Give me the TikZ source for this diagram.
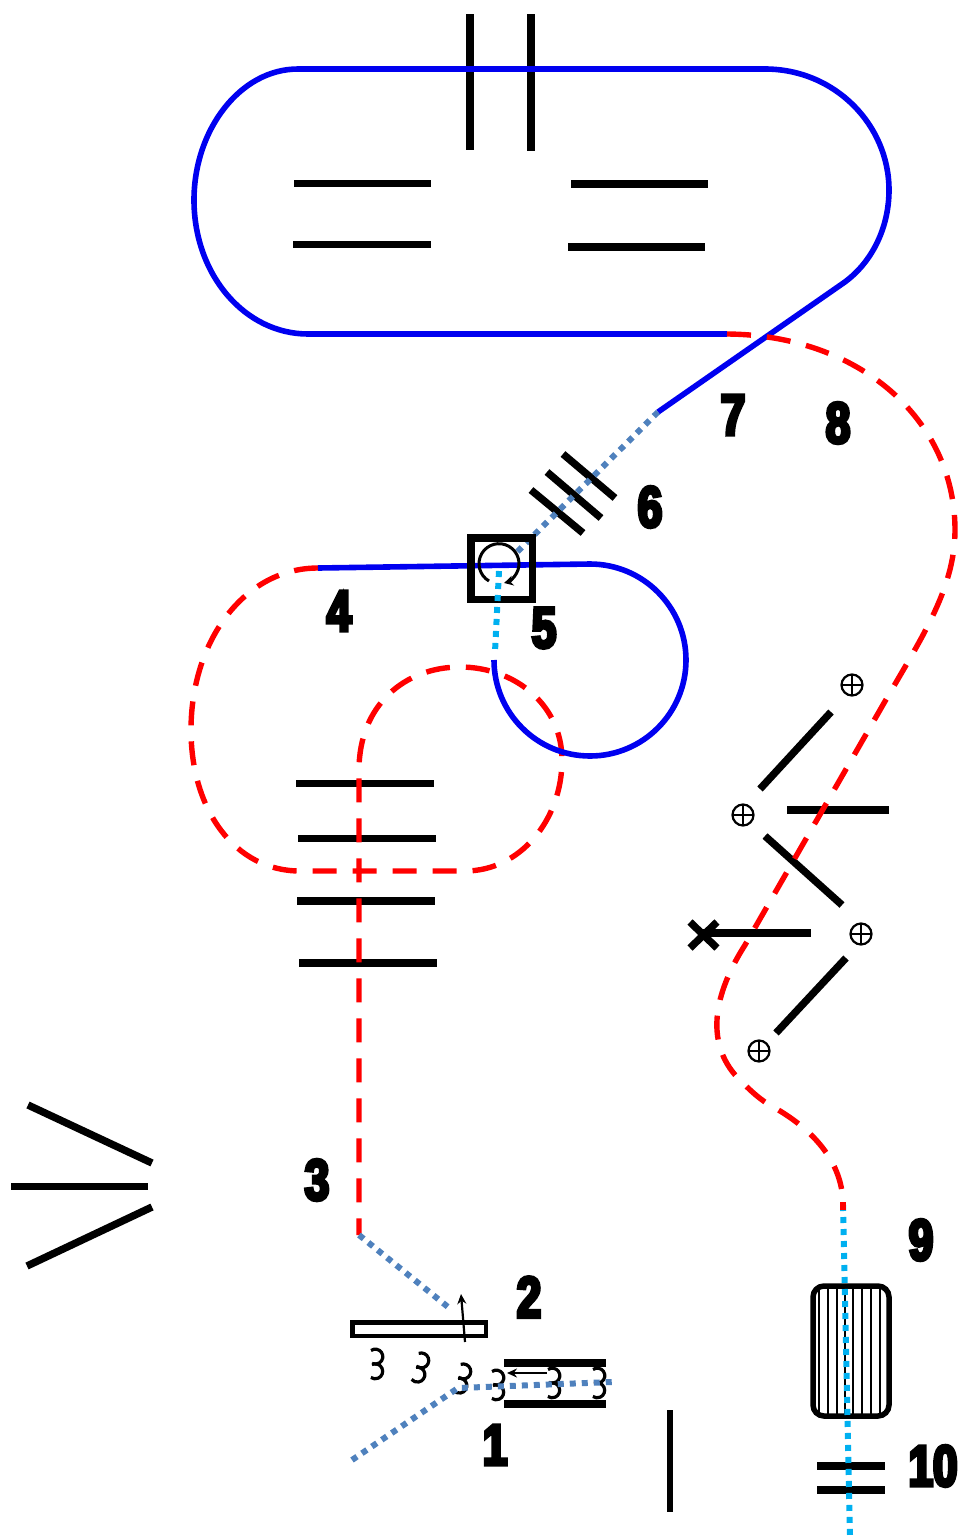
\documentclass[tikz,border=0pt]{standalone}
\usepackage{fontspec}
\usetikzlibrary{arrows.meta}
\newfontfamily\impfont[FakeBold=6,FakeStretch=0.76]{Liberation Sans Bold}
\definecolor{ringblue}{RGB}{0,0,240}
\definecolor{dotblue}{RGB}{79,129,189}
\definecolor{dotcyan}{RGB}{0,176,240}
\tikzset{
  ring/.style={draw=ringblue,line width=5.6pt},
  reddash/.style={draw=red,line width=5.4pt,dash pattern=on 24pt off 16pt},
  bluedots/.style={draw=dotblue,line width=6pt,dash pattern=on 6pt off 6pt},
  cyandots/.style={draw=dotcyan,line width=6pt,dash pattern=on 6pt off 6pt},
  bar/.style={draw=black,line width=7.4pt},
  thinarrow/.style={draw=black,line width=2.2pt,-{Stealth[length=10pt,width=9pt]}},
  num/.style={font=\impfont\fontsize{58}{58}\selectfont,text=black,inner sep=0pt},
  coil/.style={draw=black,line width=3.2pt},
  port/.style={draw=black,line width=2.2pt}
}
\newcommand{\coilmark}[3]{%
  \begin{scope}[shift={(#1,#2)},rotate=#3]
    \draw[coil] (-6,-13.5) arc[start angle=125,end angle=-115,radius=7.5pt];
    \draw[coil] (-5,0.5) arc[start angle=115,end angle=-125,radius=7.5pt];
  \end{scope}}
\newcommand{\portmark}[2]{%
  \draw[port] (#1,#2) circle (10.5pt);
  \draw[draw=black,line width=1.2pt] (#1-10.5,#2) -- (#1+10.5,#2) (#1,#2-10.5) -- (#1,#2+10.5);}
\begin{document}
\begin{tikzpicture}[x=1pt,y=-1pt]
\useasboundingbox (0,0) rectangle (959,1540);
% storage ring
\draw[bar] (470,14) -- (470,150);
\draw[bar] (531,14) -- (531,151);
\draw[ring] (658,412) -- (842,284) .. controls (870,265) and (889,230) .. (889,190)
  .. controls (889,125) and (835,69) .. (765,69) -- (298,69)
  .. controls (240,69) and (194,130) .. (194,200)
  .. controls (194,275) and (245,334) .. (308,334) -- (727,334);
\draw[bar] (294,183.5) -- (431,183.5);
\draw[bar] (293,244.5) -- (431,244.5);
\draw[bar] (571,184) -- (708,184);
\draw[bar] (568,247) -- (705,247);
% extraction
\draw[bar] (563,454) -- (615,498);
\draw[bar] (547,472) -- (601,518);
\draw[bar] (531,490) -- (583,533);
\draw[bluedots] (658,412) -- (516,553);
% second ring
\draw[bar] (296,783.5) -- (434,783.5);
\draw[bar] (298,838.5) -- (436,838.5);
\draw[bar] (297,901) -- (435,901);
\draw[bar] (299,963) -- (437,963);
\draw[reddash] (318,568) .. controls (245,568) and (191,640) .. (191,730)
  .. controls (191,810) and (235,871) .. (300,871) -- (465,871)
  .. controls (520,871) and (562,820) .. (562,760)
  .. controls (562,705) and (515,667) .. (460,667)
  .. controls (405,667) and (359,705) .. (359,770) -- (359,1235);
\draw[ring] (318,568) -- (590,564) arc[start angle=90,end angle=-180,radius=96pt];
\draw[draw=black,line width=7.5pt] (471,538) rectangle (532.5,599.5);
\draw[draw=black,line width=3pt,-{Stealth[length=9pt,width=10pt]}] (489,581) arc[start angle=240,end angle=-75,radius=20pt];
\draw[cyandots] (499,571) -- (495,652);
% dotted injection
\draw[bluedots] (359,1235) -- (448,1307);
% beamline right
\draw[bar] (760,789) -- (831,712);
\draw[bar] (765,836) -- (842,905);
\draw[bar] (787,810) -- (889,810);
\draw[bar] (776,1033) -- (846,958);
\draw[bar] (703,933) -- (811,933);
\draw[bar] (690,922) -- (717,948);
\draw[bar] (690,948) -- (717,922);
\portmark{852}{685}
\portmark{743}{815}
\portmark{861}{934}
\portmark{759}{1051}
\draw[reddash] (727,334) .. controls (860,335) and (955,420) .. (955,530)
  .. controls (955,590) and (920,640) .. (880,710) -- (745,945)
  .. controls (710,1000) and (705,1050) .. (745,1085)
  .. controls (755,1095) and (765,1103) .. (775,1108)
  .. controls (810,1128) and (843,1160) .. (843,1205);
% detector box
\draw[draw=black,line width=5.5pt,rounded corners=11pt] (813,1286) rectangle (889,1416);
\foreach \lx in {819,828,837,853,862,871,880}{
  \draw[draw=black,line width=1.6pt] (\lx,1288) -- (\lx,1414);
}
\draw[draw=black,line width=2.4pt] (845,1288) -- (845,1414);
\draw[bar] (817,1466) -- (885,1466);
\draw[bar] (817,1490) -- (885,1490);
\draw[cyandots] (843,1205) -- (850,1535);
\draw[draw=red,line width=6pt] (843,1202) -- (843,1210);
% left fan
\draw[bar] (28,1105) -- (152,1163);
\draw[bar] (11,1186.5) -- (148,1186.5);
\draw[bar] (27,1266) -- (152,1207);
\draw[draw=black,line width=6.5pt] (670,1410) -- (670,1512);
% source
\draw[draw=black,line width=4.8pt] (352.5,1322.5) rectangle (486,1336);
\draw[draw=black,line width=7.5pt] (504,1363) -- (606,1363);
\draw[draw=black,line width=7.5pt] (504,1404) -- (606,1404);
\coilmark{377}{1364}{0}
\coilmark{421}{1368}{-15}
\coilmark{463}{1379}{-15}
\coilmark{498}{1385}{0}
\coilmark{554}{1383}{0}
\coilmark{599}{1383}{0}
\draw[thinarrow] (465,1342) -- (461,1294);
\draw[thinarrow] (547,1373) -- (507,1373);
\draw[bluedots] (352,1460) -- (458,1388) -- (612,1382);
% numbers
\node[num] (n1) at (495,1445) {1};
\node[num] (n2) at (529,1297) {2};
\node[num] (n3) at (317,1180) {3};
\node[num] (n4) at (339,611) {4};
\node[num] (n5) at (544,628) {5};
\node[num] (n6) at (650,507) {6};
\node[num] (n7) at (733,415) {7};
\node[num] (n8) at (838,423) {8};
\node[num] (n9) at (921,1240) {9};
\node[num] (n10) at (933,1466) {10};
\end{tikzpicture}
\end{document}
